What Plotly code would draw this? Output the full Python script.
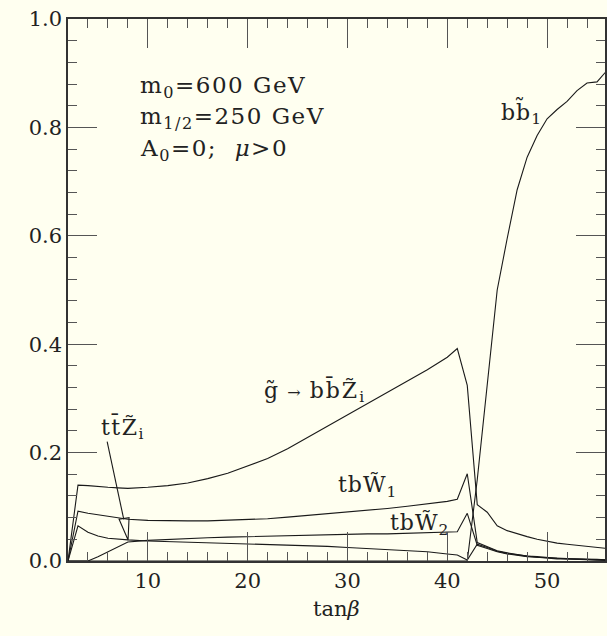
import plotly.graph_objects as go

# ---------------- data ----------------
tanb = [2, 3, 4, 5, 6, 7, 8, 10, 12, 14, 16, 18, 20, 22, 24, 26, 28, 30, 32, 34, 36, 38, 40, 41, 42,
        43, 44, 45, 46, 47, 48, 49, 50, 51, 52, 53, 54, 55, 56]

gl_bbZ = [0.0, 0.140, 0.139, 0.137, 0.136, 0.135, 0.134, 0.136, 0.139, 0.144, 0.152, 0.162, 0.175,
          0.189, 0.207, 0.228, 0.249, 0.269, 0.290, 0.311, 0.333, 0.353, 0.376, 0.392, 0.324,
          0.104, 0.090, 0.065, 0.056, 0.050, 0.045, 0.040, 0.036, 0.033, 0.031, 0.029, 0.027, 0.025, 0.023]

tbW1 = [0.0, 0.092, 0.088, 0.085, 0.082, 0.079, 0.077, 0.075, 0.074, 0.074, 0.074, 0.075, 0.076,
        0.078, 0.081, 0.084, 0.087, 0.090, 0.094, 0.097, 0.101, 0.105, 0.110, 0.114, 0.161,
        0.034, 0.027, 0.019, 0.015, 0.012, 0.009, 0.008, 0.006, 0.005, 0.004, 0.004, 0.003, 0.003, 0.002]

ttZ = [0.0, 0.065, 0.053, 0.046, 0.042, 0.040, 0.039, 0.037, 0.036, 0.035, 0.034, 0.033, 0.032,
       0.031, 0.030, 0.028, 0.027, 0.025, 0.023, 0.021, 0.019, 0.017, 0.013, 0.011, 0.002,
       0.031, 0.025, 0.018, 0.014, 0.011, 0.009, 0.007, 0.006, 0.005, 0.004, 0.003, 0.003, 0.002, 0.002]

tbW2 = [0.0, 0.0, 0.0, 0.008, 0.017, 0.026, 0.035, 0.038, 0.040, 0.042, 0.043, 0.044, 0.045,
        0.046, 0.047, 0.047, 0.048, 0.049, 0.050, 0.050, 0.051, 0.052, 0.053, 0.054, 0.088,
        0.029, 0.023, 0.017, 0.013, 0.010, 0.008, 0.007, 0.005, 0.004, 0.004, 0.003, 0.002, 0.002, 0.001]

bsb1 = [0.0] * 25 + [0.150, 0.320, 0.500, 0.595, 0.685, 0.745, 0.785, 0.816, 0.833, 0.848,
                     0.868, 0.882, 0.884, 0.905]

series = [gl_bbZ, tbW1, ttZ, tbW2, bsb1]

# ---------------- figure ----------------
BG = "#fffff0"
LINE = "#1a1a1a"
FONT = "DejaVu Serif"
TICK = "#555555"

fig = go.Figure()
for ys in series:
    fig.add_trace(go.Scatter(x=tanb, y=ys, mode="lines",
                             line=dict(color=LINE, width=1.1), hoverinfo="skip"))

X0, XS = 68.0, 10.02
Y0, YS = 561.0, 541.5
def dx(px):
    return 2 + (px - X0) / XS
def dy(py):
    return (Y0 - py) / YS

ann = []
def label(text, px, py, xanchor="center", size=22, spacing=2):
    t = "<span style='letter-spacing:{}px'>{}</span>".format(spacing, text) if spacing else text
    ann.append(dict(text=t, x=dx(px), y=dy(py), xref="x", yref="y",
                    xanchor=xanchor, yanchor="middle", showarrow=False,
                    font=dict(family=FONT, size=size, color="#222")))

label("m<sub>0</sub>=600 GeV", 138, 87, xanchor="left", size=23, spacing=1.5)
label("m<sub>1/2</sub>=250 GeV", 138, 118, xanchor="left", size=23, spacing=1.5)
label("A<sub>0</sub>=0;  <i>μ</i>>0", 138, 150, xanchor="left", size=23, spacing=1.5)
label("bb\u0303<sub>1</sub>", 523, 112, spacing=1)
label("g\u0303<span style='font-size:16px'> → </span>bb\u0304Z\u0303<sub>i</sub>", 316, 391, spacing=2)
label("tbW\u0303<sub>1</sub>", 369, 487, spacing=1)
label("tbW\u0303<sub>2</sub>", 421, 525, spacing=1)
label("tt\u0304Z\u0303<sub>i</sub>", 123, 428, spacing=1.5)

ann.append(dict(text="tan<i>β</i>", x=dx(338), y=(561 - 609) / 542.0, xref="x", yref="paper",
                xanchor="center", yanchor="middle", showarrow=False,
                font=dict(family=FONT, size=21, color="#222")))

shapes = [
    dict(type="line", xref="x", yref="y", x0=dx(107.3), y0=dy(441.7), x1=dx(124), y1=dy(519.5),
         line=dict(color=LINE, width=1.1)),
    dict(type="path", xref="x", yref="y",
         path="M {:.4f},{:.4f} L {:.4f},{:.4f} L {:.4f},{:.4f} Z".format(
             dx(119.3), dy(519.3), dx(128.3), dy(540.0), dx(129.3), dy(517.7)),
         line=dict(color=LINE, width=1.1)),
]

axis_common = dict(
    ticks="inside", ticklen=29, tickwidth=1.3, tickcolor=TICK,
    showline=True, linecolor="#333", linewidth=1.5, mirror="ticks",
    showgrid=False, zeroline=False,
    tickfont=dict(family=FONT, size=21, color="#222"),
)

fig.update_layout(
    width=607, height=636,
    margin=dict(l=68, r=0, t=19, b=75),
    paper_bgcolor=BG, plot_bgcolor=BG,
    showlegend=False,
    annotations=ann, shapes=shapes,
    xaxis=dict(range=[2, 55.8], tick0=0, dtick=10,
               minor=dict(tick0=0, dtick=2, ticklen=9, ticks="inside", tickcolor=TICK, tickwidth=1.3),
               **axis_common),
    yaxis=dict(range=[0, 1], tick0=0, dtick=0.2, tickformat=".1f",
               minor=dict(tick0=0, dtick=0.04, ticklen=9, ticks="inside", tickcolor=TICK, tickwidth=1.3),
               **axis_common),
)

fig.write_html("out.html")
